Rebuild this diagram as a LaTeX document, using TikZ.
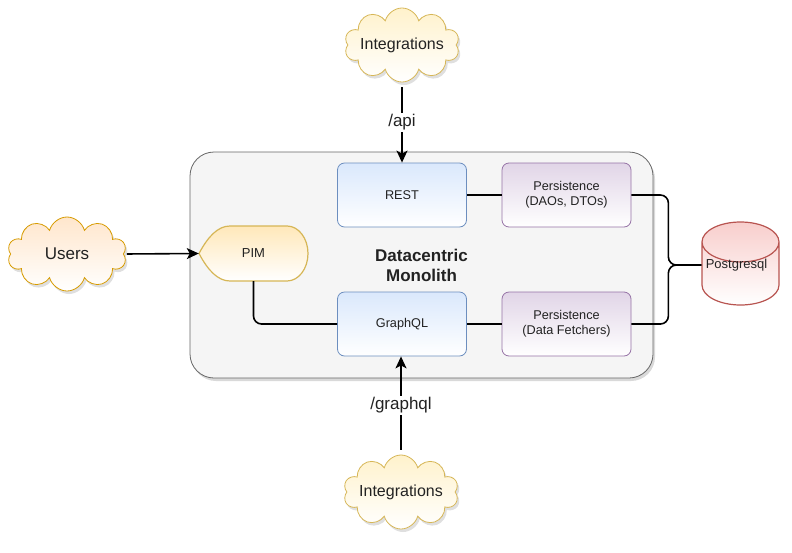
\documentclass[tikz,border=0pt]{standalone}
\usepackage{fontspec}
\setmainfont{Liberation Sans}
\usetikzlibrary{shapes.symbols,shapes.geometric,arrows.meta,shadows}

\definecolor{ylfill}{HTML}{FFF2CC}
\definecolor{yldraw}{HTML}{D6B656}
\definecolor{orfill}{HTML}{FFE6CC}
\definecolor{ordraw}{HTML}{D79B00}
\definecolor{blfill}{HTML}{DAE8FC}
\definecolor{bldraw}{HTML}{6C8EBF}
\definecolor{pufill}{HTML}{E1D5E7}
\definecolor{pudraw}{HTML}{9673A6}
\definecolor{rdfill}{HTML}{F8CECC}
\definecolor{rddraw}{HTML}{B85450}
\definecolor{gyfill}{HTML}{F5F5F5}
\definecolor{gydraw}{HTML}{666666}
\definecolor{txt}{HTML}{222222}

\begin{document}
\begin{tikzpicture}[x=1pt,y=-1pt,
  cloudy/.style={cloud, cloud puffs=10, aspect=1.6, draw=yldraw, line width=0.8pt,
    top color=ylfill, bottom color=white, inner sep=0pt,
    minimum width=115pt, minimum height=74pt, text=txt,
    font=\fontsize{16}{19}\selectfont,
    drop shadow={shadow xshift=2pt, shadow yshift=-3pt, opacity=0.25}},
  svcbox/.style={rectangle, rounded corners=7pt, draw=bldraw, line width=0.8pt,
    top color=blfill, bottom color=white, minimum width=129pt, minimum height=64pt,
    align=center, text=txt, font=\fontsize{12.7}{15}\selectfont},
  persbox/.style={svcbox, draw=pudraw, top color=pufill},
  link/.style={line width=1.6pt, rounded corners=8pt},
  flow/.style={link, -{Stealth[length=12pt,width=11pt,inset=3pt]}},
  lbl/.style={fill=white, inner sep=1.5pt, text=txt, font=\fontsize{17}{20}\selectfont}]

\useasboundingbox (0,0) rectangle (792,552);

% the monolith
\node[rectangle, rounded corners=24pt, draw=gydraw, line width=0.8pt, fill=gyfill,
  minimum width=463pt, minimum height=226pt, align=center, text=txt,
  font=\bfseries\fontsize{17}{20}\selectfont,
  drop shadow={shadow xshift=2pt, shadow yshift=-3pt, opacity=0.3}]
  (mono) at (421.5,265) {Datacentric\\Monolith};

\node[svcbox] (rest) at (402,195) {REST};
\node[svcbox] (gql) at (402,324) {GraphQL};
\node[persbox] (pdao) at (566.5,195) {Persistence\\(DAOs, DTOs)};
\node[persbox] (pfetch) at (566.5,324) {Persistence\\(Data Fetchers)};

% PIM display shape
\coordinate (pimc) at (253.5,253.5);
\path[draw=yldraw, line width=1.2pt, top color=ylfill!85!orange!60!ylfill, bottom color=white]
  ([shift={(-54.5,0)}]pimc) .. controls +(9,-17) and +(-12,0) .. ([shift={(-23.5,-27.5)}]pimc)
  -- ([shift={(33.5,-27.5)}]pimc)
  arc[start angle=90, end angle=-90, x radius=21pt, y radius=27.5pt]
  -- ([shift={(-23.5,27.5)}]pimc) .. controls +(-12,0) and +(9,17) .. ([shift={(-54.5,0)}]pimc)
  -- cycle;
\node[minimum width=109pt, minimum height=55pt, inner sep=0pt, text=txt,
  font=\fontsize{13}{15}\selectfont] (pim) at (pimc) {PIM};

% database
\node[cylinder, shape border rotate=90, aspect=0.65, draw=rddraw, line width=1.2pt,
  top color=rdfill, bottom color=white, minimum width=77pt, minimum height=83pt,
  inner sep=0pt, anchor=shape center, font=\fontsize{13}{15}\selectfont]
  (pg) at (740.5,263.5) {\phantom{Postgresql}};
\node[text=txt, inner sep=0pt, font=\fontsize{13}{15}\selectfont] (pgname) at (736.5,265) {Postgresql};
\coordinate (pgin) at (pg.west |- pgname);

\node[cloudy, inner xsep=-12pt] (topint) at (402,45) {Integrations};
\node[cloudy, inner xsep=-12pt] (botint) at (401,492) {Integrations};
\node[cloudy, draw=ordraw, top color=orfill, minimum width=119pt,
  font=\fontsize{17}{20}\selectfont] (users) at (67,254) {Users};

\draw[link] (rest) -- (pdao);
\draw[link] (gql) -- (pfetch);
\draw[link] (pdao.east) -- ++(37,0) |- (pgin);
\draw[link] (pfetch.east) -- ++(37,0) |- (pgin);
\draw[link] (pim.south) |- (gql.west);
\draw[flow, shorten <=3pt] (users.east) -- (pim.west);
\draw[flow, shorten <=5pt] (topint.south) -- node[lbl] {/api} (rest.north);
\draw[flow, shorten <=5pt] (botint.north) -- node[lbl] {/graphql} (botint.north |- gql.south);
\end{tikzpicture}
\end{document}
